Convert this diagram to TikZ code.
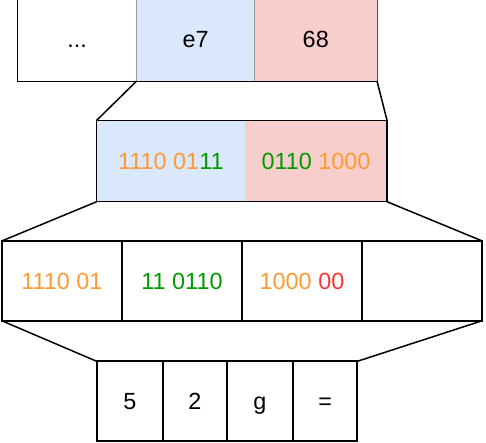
\documentclass[tikz,border=0pt]{standalone}
\usepackage{fontspec}
\setmainfont{Liberation Sans}
\definecolor{cblue}{HTML}{DAE8FC}
\definecolor{cpink}{HTML}{F8CECC}
\definecolor{corange}{HTML}{FF9933}
\definecolor{cgreen}{HTML}{009900}
\definecolor{cred}{HTML}{FF3333}
\begin{document}
\begin{tikzpicture}[x=1pt,y=-1pt,
  cell/.style={rectangle,inner sep=0pt,outer sep=0pt,font=\fontsize{23.4}{27}\selectfont,text height=16.8pt,text depth=0pt},
  topcell/.style={cell,draw=black!40,line width=1pt,minimum height=83pt},
  midcell/.style={cell,minimum height=81.4pt,minimum width=#1},
  lowcell/.style={cell,draw=black,line width=2pt,minimum height=79.7pt,minimum width=#1},
  endcell/.style={cell,draw=black,line width=2pt,minimum height=79.4pt,minimum width=#1},
  link/.style={draw=black,line width=#1}]
\useasboundingbox (0,0) rectangle (486,442);
% top row
\node[topcell,fill=white,minimum width=119.2pt] (dots) at (77.1,39.5) {...};
\node[topcell,fill=cblue,minimum width=117.8pt] (e7) at (195.6,39.5) {e7};
\node[topcell,fill=cpink,minimum width=122.5pt] (h68) at (315.75,39.5) {68};
\draw[black,line width=1pt] (dots.north west) -- (dots.south west) -- (h68.south east);
\draw[black!70,line width=1pt] (h68.north east) -- (h68.south east);
% middle
\node[midcell=148.3pt,fill=cblue] (mL) at (170.85,161) {\textcolor{corange}{1110 01}\textcolor{cgreen}{11}};
\node[midcell=142pt,fill=cpink] (mR) at (316,161) {\textcolor{cgreen}{0110} \textcolor{corange}{1000}};
\draw[black,line width=1.3pt] (mL.north west) rectangle (mR.south east);
% bottom row
\node[lowcell=120.3pt] (b1) at (61.85,280.85) {\textcolor{corange}{1110 01}};
\node[lowcell=120pt] (b2) at (182,280.85) {\textcolor{cgreen}{11 0110}};
\node[lowcell=120pt] (b3) at (302,280.85) {\textcolor{corange}{1000} \textcolor{cred}{00}};
\node[lowcell=120.3pt] (b4) at (422.15,280.85) {};
% last row
\node[endcell=66.3pt] (c1) at (129.85,401) {5};
\node[endcell=64pt] (c2) at (195,401) {2};
\node[endcell=66pt] (c3) at (260,401) {g};
\node[endcell=64.3pt] (c4) at (325.15,401) {=};
% connectors
\draw[link=1.5pt] (e7.south west) -- (mL.north west);
\draw[link=1.5pt] (h68.south east) -- (mR.north east);
\draw[link=1.5pt] (mL.south west) -- (b1.north west);
\draw[link=1.5pt] (mR.south east) -- (b4.north east);
\draw[link=1.5pt] (b1.south west) -- (c1.north west);
\draw[link=1.5pt] (b4.south east) -- (c4.north east);
\end{tikzpicture}
\end{document}
